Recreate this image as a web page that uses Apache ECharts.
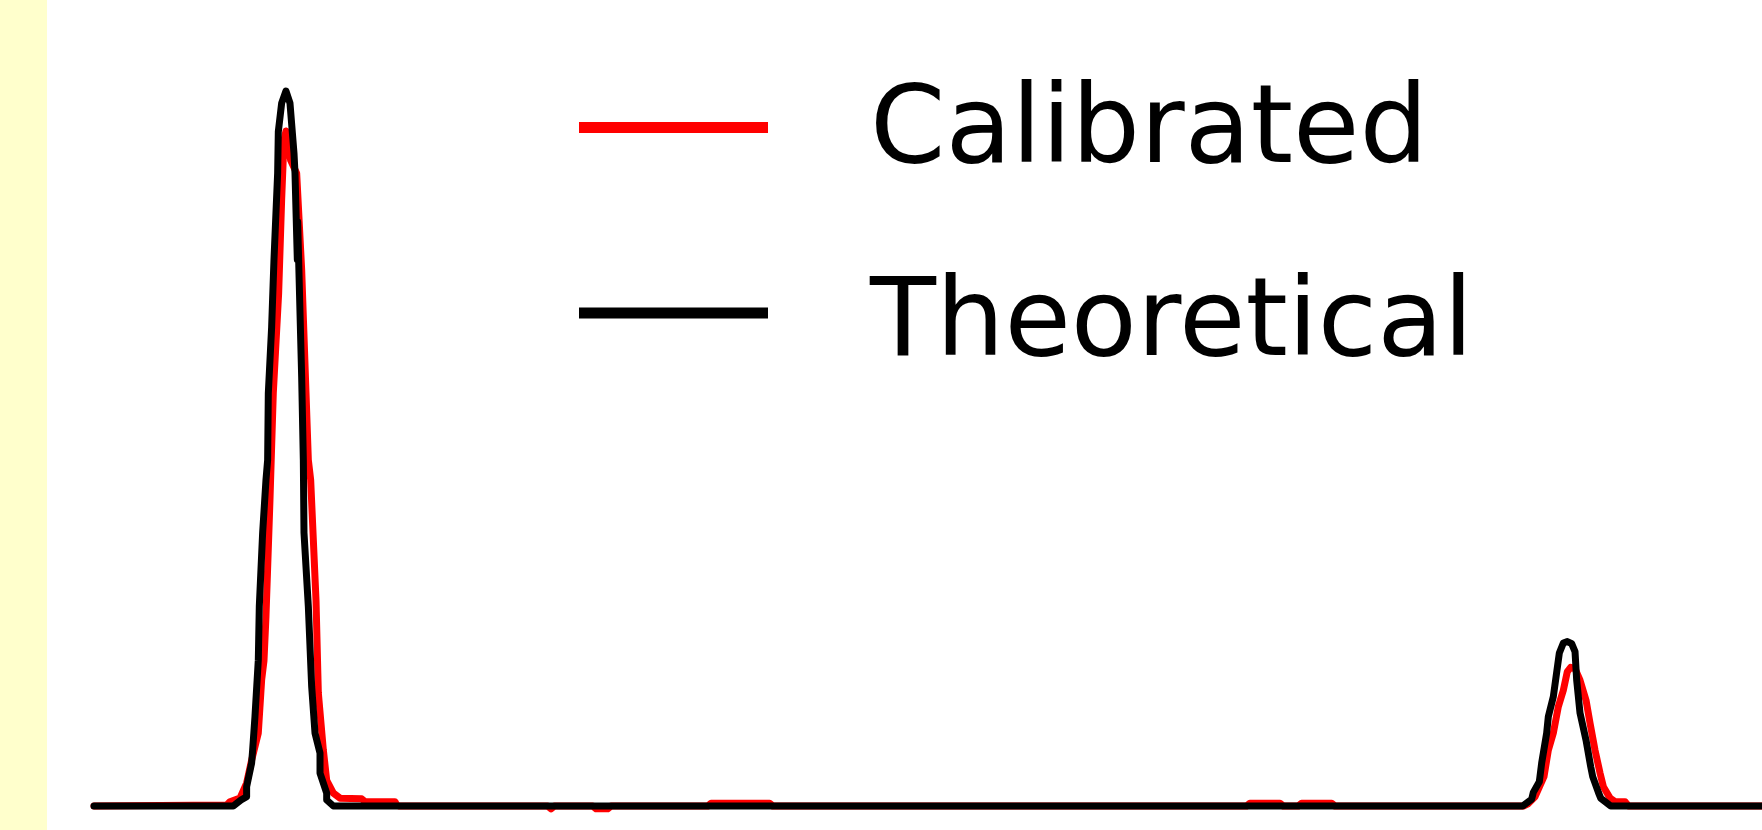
<!DOCTYPE html>
<html>
<head>
<meta charset="utf-8">
<script src="https://cdn.jsdelivr.net/npm/echarts@6/dist/echarts.min.js"></script>
<style>
  html, body { margin: 0; padding: 0; background: #fff; }
  #chart { width: 1762px; height: 830px; }
</style>
</head>
<body>
<div id="chart"></div>
<script>
// channel / intensity pairs
var series_names = ['Calibrated', 'Theoretical'];

var calibrated = [
    [0, 0], [79.6, 0.14], [81.5, 0.6], [87.5, 1.1], [91.5, 3.2], [94.5, 6.4],
    [98.5, 10.2], [100.5, 17.6], [101.9, 20.3], [103.1, 26.5], [105.5, 42.8],
    [107.5, 57.8], [110.7, 71.7], [112.5, 84.8], [113.9, 93.1], [115.1, 94.4],
    [115.9, 94.4], [117.9, 90.3], [121.5, 88.5], [124.5, 75.0], [127.1, 57.8],
    [128.5, 48.4], [129.9, 45.6], [133.1, 28.8], [134.5, 15.8], [137.5, 7.8],
    [139.5, 3.6], [143.5, 1.8], [147.5, 1.1], [160.5, 1.0], [162.5, 0.6],
    [180.5, 0.6], [181.5, 0.14], [183, 0],
    [272, 0], [274, -0.4], [276, 0],
    [299, 0], [301, -0.4], [308, -0.4], [310, 0],
    [368, 0], [370, 0.4], [405, 0.4], [407, 0],
    [691, 0], [693, 0.4], [711, 0.4], [713, 0],
    [722, 0], [724, 0.4], [742, 0.4], [744, 0],
    [857, 0], [859.7, 0.3], [863.9, 1.3], [869.3, 4.1], [871.9, 7.8], [874.9, 10.2],
    [877.9, 13.9], [880.9, 16.2], [883.3, 18.8], [885.3, 19.4], [887.9, 19.2],
    [890.9, 17.6], [894.5, 14.8], [896.9, 11.6], [899.9, 7.8], [902.9, 4.6],
    [904.9, 2.7], [908.9, 1.1], [911.9, 0.6], [917.9, 0.6], [918.9, 0.3], [920, 0],
    [1000, 0]
];

var theoretical = [
    [0, 0], [83.5, 0], [88.1, 0.84], [91.5, 1.3], [91.5, 2.7], [94.5, 6.0],
    [95.1, 7.8], [96.5, 12.5], [98.5, 20.4], [99.1, 27.9], [101.1, 38.2],
    [103.1, 45.6], [104.1, 48.4], [104.5, 57.7], [106.5, 67.0], [107.9, 76.4],
    [110.1, 88.5], [110.5, 94.3], [112.5, 98.3], [115.1, 100], [117.5, 98.3],
    [119.9, 91.3], [120.5, 88.5], [121.9, 76.4], [122.1, 81.7], [124.5, 60.0],
    [125.5, 48.4], [125.9, 38.2], [128.5, 27.9], [130.5, 16.7], [132.5, 10.2],
    [135.5, 7.4], [135.5, 4.6], [139.5, 1.8], [139.5, 0.84], [143.5, 0],
    [856.5, 0], [861.9, 0.94], [862.9, 1.9], [866.5, 3.4], [867.9, 6.0],
    [870.9, 10.2], [871.9, 12.5], [874.9, 15.3], [878.5, 21.4], [880.9, 22.8],
    [883.3, 23.0], [885.9, 22.7], [887.9, 21.6], [888.9, 17.6], [890.9, 13.0],
    [894.5, 9.2], [897.3, 5.5], [898.5, 4.1], [901.9, 1.9], [903.3, 1.1],
    [909.3, 0], [1000, 0]
];

var chart = echarts.init(document.getElementById('chart'));

function line_series(name, data, color)
{
    return {
	name: name,
	type: 'line',
	data: data,
	showSymbol: false,
	clip: false,
	color: color,
	lineStyle: {color: color, width: 7, cap: 'round', join: 'round'}
    };
}

/* a thin empty first line pushes each label down a little against its key */
function legend_label(name)
{
    var sp = (name == series_names[0]) ? 's1' : 's2';
    return '{' + sp + '| }\n{t|' + name + '}';
}

chart.setOption({
    animation: false,
    backgroundColor: '#ffffff',
    graphic: [{
	type: 'rect',
	left: 0, top: 0,
	shape: {width: 47, height: 830},
	style: {fill: '#ffffcc'},
	z: -1
    }],
    grid: {left: 94, right: 0, top: 91, bottom: 24},
    xAxis: {type: 'value', min: 0, max: 1000, show: false},
    yAxis: {type: 'value', min: 0, max: 100, show: false},
    legend: {
	orient: 'vertical',
	left: 579,
	top: 67,
	padding: 0,
	icon: 'rect',
	itemWidth: 189,
	itemHeight: 11,
	itemGap: 65,
	selectedMode: false,
	formatter: legend_label,
	textStyle: {
	    color: '#000',
	    padding: [0, 0, 0, 97],
	    rich: {
		s1: {fontSize: 1, lineHeight: 12},
		s2: {fontSize: 1, lineHeight: 28},
		t: {fontFamily: 'DejaVu Sans', fontSize: 108, lineHeight: 120, color: '#000'}
	    }
	},
	data: series_names
    },
    series: [
	line_series(series_names[0], calibrated, '#ff0000'),
	line_series(series_names[1], theoretical, '#000000')
    ]
});
</script>
</body>
</html>
